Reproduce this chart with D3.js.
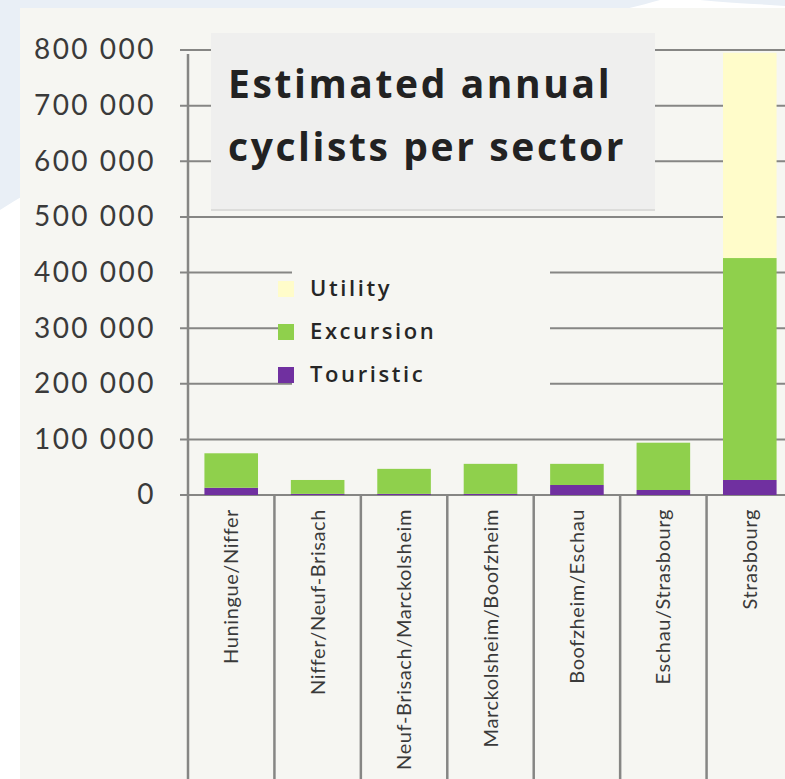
<!DOCTYPE html>
<html>
<head>
<meta charset="utf-8">
<script src="https://cdn.jsdelivr.net/npm/d3@7"></script>
<style>
  body { margin: 0; background: #fff; }
  svg { display: block; }
</style>
</head>
<body>
<div id="chart"></div>
<script>
// data
const sectors = ['Huningue/Niffer', 'Niffer/Neuf-Brisach', 'Neuf-Brisach/Marckolsheim',
    'Marckolsheim/Boofzheim', 'Boofzheim/Eschau', 'Eschau/Strasbourg', 'Strasbourg'];
const touristic = [13000, 2000, 2000, 2000, 18000, 9000, 27000];
const excursion = [62000, 25000, 45000, 54000, 38000, 85000, 399000];
const utility = [0, 0, 0, 0, 0, 0, 369000];
const yTicks = [0, 100000, 200000, 300000, 400000, 500000, 600000, 700000, 800000];
const seriesNames = ['Touristic', 'Excursion', 'Utility'];
const titleLines = ['Estimated annual', 'cyclists per sector'];

const colors = {Touristic: '#7030a0', Excursion: '#8fd04c', Utility: '#fffcca'};

// constants
const W = 785, H = 779;
const plot = {left: 188, right: 793, top: 50, bottom: 495};
const font = 'Lato, "Open Sans", sans-serif';
const titleFont = '"Open Sans", Lato, sans-serif';

const svg = d3.select('#chart').append('svg')
    .attr('width', W)
    .attr('height', H);

// background shape + panel
svg.append('path')
    .attr('d', 'M0,0 L660,0 C520,40 200,80 0,210 Z')
    .attr('fill', '#e9eff6');
svg.append('path')
    .attr('d', 'M700,0 L785,0 L785,6 C760,4 730,3 700,0 Z')
    .attr('fill', '#e9eff6');
svg.append('rect')
    .attr('x', 20).attr('y', 8)
    .attr('width', W - 20).attr('height', H - 8)
    .attr('fill', '#f6f6f2');

// scales
let x = d3.scaleBand()
    .domain(sectors)
    .range([plot.left, plot.right])
    .padding(0);
let y = d3.scaleLinear()
    .domain([0, 800000])
    .range([plot.bottom, plot.top]);

const fmt = d3.formatLocale({decimal: ',', thousands: ' ', grouping: [3], currency: ['', '']}).format(',d');

// gridlines
svg.append('g')
    .selectAll('line')
    .data(yTicks)
    .enter()
    .append('line')
    .attr('x1', plot.left - 8)
    .attr('x2', W)
    .attr('y1', d => y(d))
    .attr('y2', d => y(d))
    .attr('stroke', '#868684')
    .attr('stroke-width', 2);

// title box
svg.append('rect')
    .attr('x', 211).attr('y', 33)
    .attr('width', 444).attr('height', 177)
    .attr('fill', '#efefee');
svg.append('line')
    .attr('x1', 211).attr('x2', 655)
    .attr('y1', 210).attr('y2', 210)
    .attr('stroke', '#dcdcda').attr('stroke-width', 2);
svg.append('g')
    .selectAll('text')
    .data(titleLines)
    .enter()
    .append('text')
    .attr('x', 228)
    .attr('y', (d, i) => 98 + i * 63)
    .attr('font-family', titleFont)
    .attr('font-weight', 'bold')
    .attr('font-size', 39)
    .attr('letter-spacing', 2.6)
    .attr('fill', '#222')
    .text(d => d);

// legend
svg.append('rect')
    .attr('x', 292).attr('y', 262)
    .attr('width', 258).attr('height', 140)
    .attr('fill', '#f6f6f2');
let legend = svg.append('g')
    .selectAll('g')
    .data(seriesNames.slice().reverse())
    .enter()
    .append('g')
    .attr('transform', (d, i) => `translate(278, ${281 + i * 43})`);
legend.append('rect')
    .attr('width', 16).attr('height', 16)
    .attr('fill', d => colors[d]);
legend.append('text')
    .attr('x', 32).attr('y', 15)
    .attr('font-family', titleFont)
    .attr('font-weight', 600)
    .attr('font-size', 22)
    .attr('letter-spacing', 2.6)
    .attr('fill', '#262626')
    .text(d => d);

// stacked bars
let rows = sectors.map((s, i) => ({sector: s, Touristic: touristic[i], Excursion: excursion[i], Utility: utility[i]}));
let stacked = d3.stack().keys(seriesNames)(rows);
const barW = x.bandwidth() * 0.62;

svg.append('g')
    .selectAll('g')
    .data(stacked)
    .enter()
    .append('g')
    .attr('fill', d => colors[d.key])
    .selectAll('rect')
    .data(d => d)
    .enter()
    .append('rect')
    .attr('x', d => x(d.data.sector) + (x.bandwidth() - barW) / 2)
    .attr('y', d => y(d[1]))
    .attr('width', barW)
    .attr('height', d => y(d[0]) - y(d[1]));

// y axis
let yAxis = svg.append('g')
    .attr('transform', `translate(${plot.left},0)`)
    .call(d3.axisLeft(y).tickValues(yTicks).tickSize(0).tickPadding(32).tickFormat(fmt));
yAxis.select('.domain').remove();
yAxis.selectAll('text')
    .attr('font-family', font)
    .attr('font-size', 28)
    .attr('letter-spacing', 2.5)
    .attr('fill', '#3a3a3a');
svg.append('line')
    .attr('x1', plot.left).attr('x2', plot.left)
    .attr('y1', y(800000) + 4).attr('y2', H)
    .attr('stroke', '#868684').attr('stroke-width', 2.5);

// category separators
svg.append('g')
    .selectAll('line')
    .data(sectors.slice(1))
    .enter()
    .append('line')
    .attr('x1', d => x(d)).attr('x2', d => x(d))
    .attr('y1', plot.bottom).attr('y2', H)
    .attr('stroke', '#868684').attr('stroke-width', 2.5);

// category labels
svg.append('g')
    .selectAll('text')
    .data(sectors)
    .enter()
    .append('text')
    .attr('transform', d => `translate(${x(d) + x.bandwidth() / 2 + 7}, 509) rotate(-90)`)
    .attr('text-anchor', 'end')
    .attr('font-family', font)
    .attr('font-size', 20)
    .attr('letter-spacing', 0.6)
    .attr('fill', '#3a3a3a')
    .text(d => d);
</script>
</body>
</html>
